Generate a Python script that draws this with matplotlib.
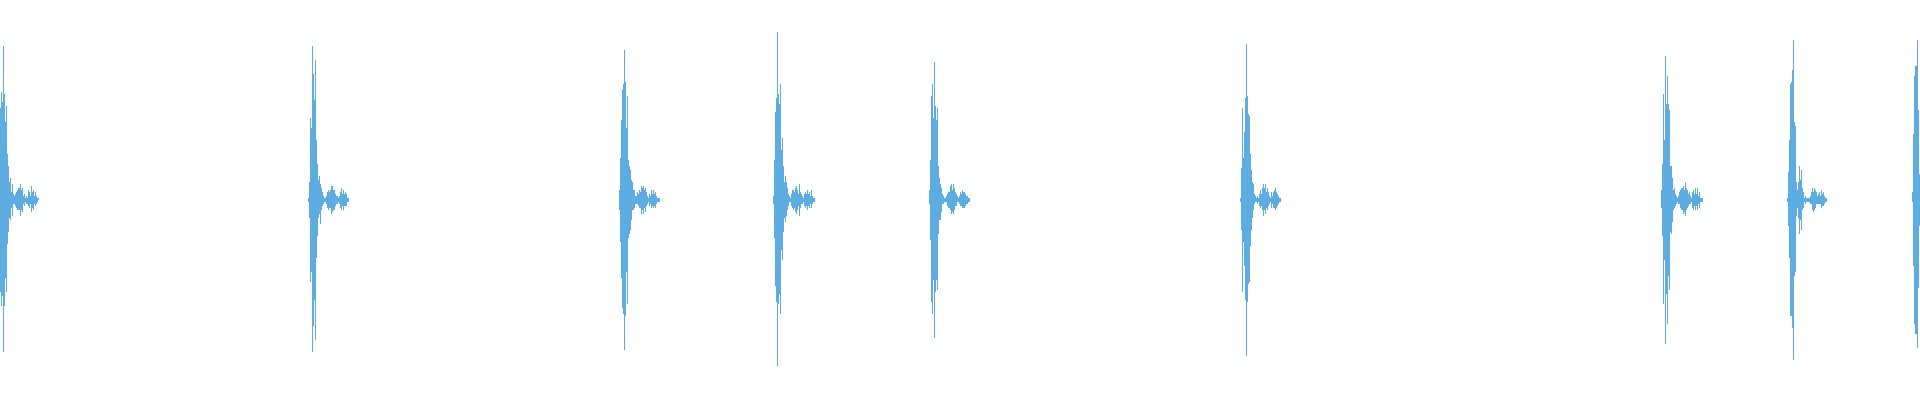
import numpy as np
import matplotlib
matplotlib.use("Agg")
import matplotlib.pyplot as plt

# Waveform peaks, one value per pixel column, 100 = full scale.
# onsets: first column of each burst
onsets = [0, 308, 619, 773, 929, 1240, 1661, 1787, 1912]

peaks_up = [
    [46, 54, 49, 77, 53, 39, 47, 23, 17, 9, 11, 4, 8, 3, 2, 3, 4, 5, 6, 6, 8, 5, 6, 2, 3, 1, 2, 1, 5, 4, 2, 7, 4, 5, 2, 4, 2, 1, 1],
    [1, 9, 41, 36, 77, 63, 50, 70, 30, 18, 10, 12, 8, 6, 4, 2, 1, 1, 2, 4, 5, 4, 5, 7, 7, 5, 5, 3, 2, 2, 1, 2, 4, 6, 3, 5, 3, 4, 3, 1, 1],
    [5, 21, 40, 55, 58, 75, 59, 36, 52, 20, 17, 15, 10, 9, 5, 5, 2, 2, 4, 3, 5, 4, 7, 6, 7, 5, 6, 4, 2, 1, 3, 2, 5, 3, 5, 3, 4, 2, 1, 1, 1],
    [2, 20, 44, 51, 84, 53, 48, 58, 25, 31, 17, 9, 12, 9, 6, 3, 2, 1, 3, 5, 5, 4, 6, 7, 5, 3, 8, 4, 3, 2, 1, 3, 4, 3, 5, 3, 4, 2, 5, 2, 1, 1],
    [5, 20, 52, 58, 41, 69, 47, 40, 46, 17, 11, 8, 6, 3, 2, 1, 1, 2, 3, 4, 4, 7, 8, 5, 8, 6, 4, 3, 2, 1, 2, 4, 3, 5, 4, 4, 3, 2, 2, 1, 1],
    [1, 16, 46, 21, 34, 51, 78, 52, 43, 42, 23, 15, 9, 8, 3, 2, 1, 2, 1, 3, 5, 3, 6, 8, 6, 8, 4, 6, 4, 2, 1, 4, 2, 4, 5, 6, 4, 3, 2, 1, 1],
    [5, 18, 53, 30, 72, 48, 62, 48, 45, 17, 17, 11, 5, 6, 3, 2, 1, 2, 4, 5, 6, 6, 7, 5, 9, 6, 5, 3, 4, 2, 1, 4, 5, 3, 6, 3, 6, 2, 4, 1, 1, 1],
    [1, 14, 30, 58, 59, 65, 80, 39, 37, 9, 5, 9, 17, 10, 15, 6, 4, 1, 2, 1, 1, 1, 1, 2, 4, 6, 4, 6, 5, 4, 2, 3, 4, 2, 5, 3, 4, 2, 1, 1],
    [4, 33, 62, 67, 67, 80, 45, 13],
]

peaks_down = [
    [46, 53, 48, 76, 53, 39, 46, 22, 16, 9, 10, 4, 8, 2, 2, 3, 4, 5, 5, 5, 8, 5, 6, 2, 3, 1, 2, 2, 3, 4, 2, 6, 4, 5, 2, 3, 2, 1, 0],
    [1, 9, 41, 36, 76, 63, 50, 70, 29, 18, 9, 7, 12, 5, 3, 2, 1, 1, 2, 4, 5, 4, 4, 7, 6, 5, 5, 3, 2, 2, 1, 2, 4, 5, 3, 5, 3, 3, 3, 1, 1],
    [5, 21, 39, 54, 57, 75, 58, 36, 52, 19, 17, 15, 10, 5, 5, 4, 2, 2, 2, 3, 4, 4, 7, 5, 7, 4, 6, 3, 2, 1, 3, 2, 4, 3, 4, 3, 4, 2, 1, 1, 1],
    [2, 19, 43, 51, 83, 52, 47, 57, 25, 30, 16, 9, 11, 8, 5, 3, 1, 1, 3, 4, 5, 4, 6, 7, 5, 3, 8, 4, 2, 2, 1, 3, 4, 3, 5, 3, 4, 2, 4, 2, 1, 1],
    [2, 20, 51, 57, 40, 69, 46, 40, 45, 17, 10, 10, 6, 2, 2, 1, 1, 1, 3, 4, 4, 5, 7, 6, 7, 5, 3, 3, 1, 1, 2, 3, 3, 4, 4, 4, 3, 2, 2, 1, 1],
    [1, 15, 46, 21, 33, 50, 78, 51, 42, 41, 23, 15, 9, 5, 2, 1, 1, 2, 1, 3, 4, 3, 5, 8, 5, 7, 4, 5, 3, 2, 1, 4, 2, 4, 4, 5, 4, 3, 2, 1, 1],
    [4, 18, 52, 30, 72, 47, 62, 38, 45, 16, 17, 11, 5, 4, 3, 2, 1, 2, 2, 4, 5, 5, 7, 6, 8, 5, 4, 3, 2, 2, 1, 4, 5, 3, 5, 3, 5, 2, 4, 1, 1, 1],
    [1, 13, 29, 58, 58, 64, 80, 38, 36, 8, 4, 9, 17, 10, 15, 5, 4, 1, 2, 1, 1, 1, 1, 2, 2, 5, 6, 5, 4, 2, 2, 2, 2, 2, 4, 3, 3, 2, 1, 1],
    [1, 33, 62, 67, 67, 74, 44, 13],
]

color = "#5DADE2"

fig = plt.figure(figsize=(19.2, 4), dpi=100)
ax = fig.add_axes([0, 0, 1, 1])

for start, up, down in zip(onsets, peaks_up, peaks_down):
    # one step per pixel column, so the burst body is drawn solid
    edges = start + np.arange(len(up) + 1)
    top = np.append(up, up[-1])
    bottom = -np.append(down, down[-1])
    ax.fill_between(edges, bottom, top, step="post", color=color,
                    linewidth=0, antialiased=False)

ax.set_xlim(0, 1920)
ax.set_ylim(-100, 100)
ax.axis("off")

fig.savefig("out.png", dpi=100, facecolor="white")
